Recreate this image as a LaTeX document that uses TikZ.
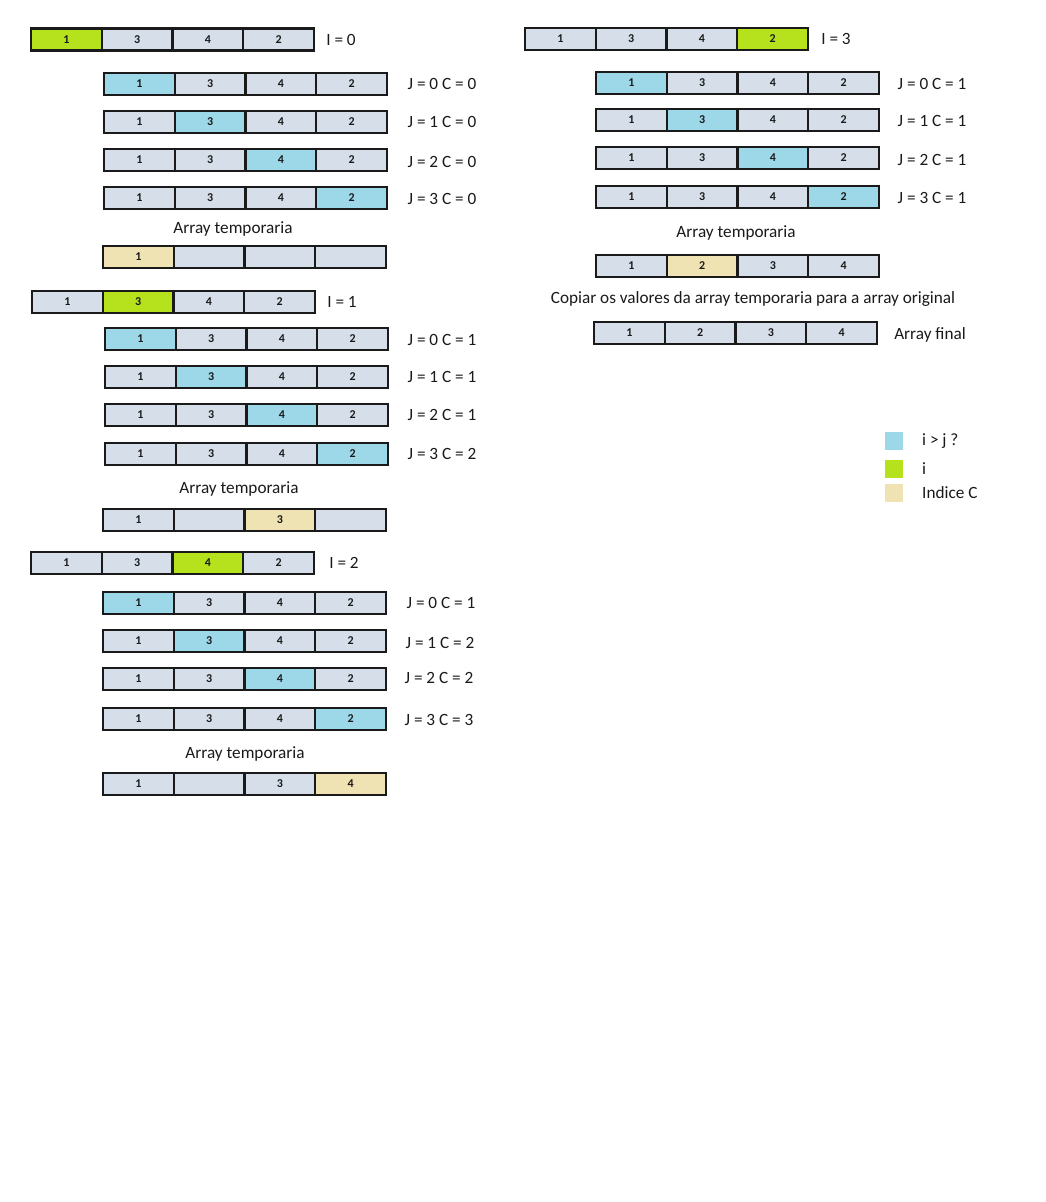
\documentclass[tikz,border=0pt]{standalone}
\usepackage{fontspec}
\setmainfont{Carlito}
\definecolor{cellbg}{HTML}{D6DFE9}
\definecolor{hiblue}{HTML}{9DD8E9}
\definecolor{icol}{HTML}{B5E21D}
\definecolor{ccol}{HTML}{EFE2B3}
\definecolor{ink}{HTML}{1A1A1A}
% one row of four cells: name, left edge, centre y, list of value/fill
\newcommand\cellrow[4]{%
  \foreach \v/\f [count=\k] in {#4}{%
    \node[cell, fill=\f] (#1-\k) at ({#2+70.75*\k-35.375},#3) {\v};
  }%
}
\begin{document}
\begin{tikzpicture}[x=1pt,y=-1pt,
  cell/.style={draw=ink, line width=2.3pt, minimum width=70.75pt, minimum height=22pt,
    inner sep=0pt, outer sep=0pt, font=\fontsize{12}{13}\selectfont\bfseries, text=ink},
  lbl/.style={font=\fontsize{17.2}{19}\selectfont, text=ink, inner sep=0pt},
  key/.style={minimum size=18pt, inner sep=0pt, draw=none}]
\useasboundingbox (0,0) rectangle (1045,1202);
\fill[white] (0,0) rectangle (1045,1202);

% ---- I = 0
\cellrow{a0}{31}{39.5}{1/icol,3/cellbg,4/cellbg,2/cellbg}
\node[lbl] (la0) at (341,40) {I = 0};
\cellrow{j00}{104}{84}{1/hiblue,3/cellbg,4/cellbg,2/cellbg}
\cellrow{j01}{104}{122}{1/cellbg,3/hiblue,4/cellbg,2/cellbg}
\cellrow{j02}{104}{160}{1/cellbg,3/cellbg,4/hiblue,2/cellbg}
\cellrow{j03}{104}{198}{1/cellbg,3/cellbg,4/cellbg,2/hiblue}
\node[lbl] (lj00) at (442,84) {J = 0 C = 0};
\node[lbl] (lj01) at (442,122) {J = 1 C = 0};
\node[lbl] (lj02) at (442,162) {J = 2 C = 0};
\node[lbl] (lj03) at (442,199) {J = 3 C = 0};
\node[lbl] (tt0) at (233,229) {Array temporaria};
\cellrow{t0}{103}{257}{1/ccol,{}/cellbg,{}/cellbg,{}/cellbg}

% ---- I = 1
\cellrow{a1}{32}{302}{1/cellbg,3/icol,4/cellbg,2/cellbg}
\node[lbl] (la1) at (342,302) {I = 1};
\cellrow{j10}{105}{339}{1/hiblue,3/cellbg,4/cellbg,2/cellbg}
\cellrow{j11}{105}{377}{1/cellbg,3/hiblue,4/cellbg,2/cellbg}
\cellrow{j12}{105}{415}{1/cellbg,3/cellbg,4/hiblue,2/cellbg}
\cellrow{j13}{105}{454}{1/cellbg,3/cellbg,4/cellbg,2/hiblue}
\node[lbl] (lj10) at (442,340) {J = 0 C = 1};
\node[lbl] (lj11) at (442,377) {J = 1 C = 1};
\node[lbl] (lj12) at (442,415) {J = 2 C = 1};
\node[lbl] (lj13) at (442,454) {J = 3 C = 2};
\node[lbl] (tt1) at (239,489) {Array temporaria};
\cellrow{t1}{103}{520}{1/cellbg,{}/cellbg,3/ccol,{}/cellbg}

% ---- I = 2
\cellrow{a2}{31}{563}{1/cellbg,3/cellbg,4/icol,2/cellbg}
\node[lbl] (la2) at (344,563) {I = 2};
\cellrow{j20}{103}{603}{1/hiblue,3/cellbg,4/cellbg,2/cellbg}
\cellrow{j21}{103}{641}{1/cellbg,3/hiblue,4/cellbg,2/cellbg}
\cellrow{j22}{103}{679}{1/cellbg,3/cellbg,4/hiblue,2/cellbg}
\cellrow{j23}{103}{719}{1/cellbg,3/cellbg,4/cellbg,2/hiblue}
\node[lbl] (lj20) at (441,603) {J = 0 C = 1};
\node[lbl] (lj21) at (440,643) {J = 1 C = 2};
\node[lbl] (lj22) at (439,678) {J = 2 C = 2};
\node[lbl] (lj23) at (439,720) {J = 3 C = 3};
\node[lbl] (tt2) at (245,754) {Array temporaria};
\cellrow{t2}{103}{784}{1/cellbg,{}/cellbg,3/cellbg,4/ccol}

% ---- I = 3
\cellrow{a3}{525}{39}{1/cellbg,3/cellbg,4/cellbg,2/icol}
\node[lbl] (la3) at (836,39) {I = 3};
\cellrow{j30}{596}{83}{1/hiblue,3/cellbg,4/cellbg,2/cellbg}
\cellrow{j31}{596}{120}{1/cellbg,3/hiblue,4/cellbg,2/cellbg}
\cellrow{j32}{596}{158}{1/cellbg,3/cellbg,4/hiblue,2/cellbg}
\cellrow{j33}{596}{197}{1/cellbg,3/cellbg,4/cellbg,2/hiblue}
\node[lbl] (lj30) at (932,84) {J = 0 C = 1};
\node[lbl] (lj31) at (932,121) {J = 1 C = 1};
\node[lbl] (lj32) at (932,160) {J = 2 C = 1};
\node[lbl] (lj33) at (932,198) {J = 3 C = 1};
\node[lbl] (tt3) at (736,233) {Array temporaria};
\cellrow{t3}{596}{266}{1/cellbg,2/ccol,3/cellbg,4/cellbg}
\node[lbl] (cp) at (753,299) {Copiar os valores da array temporaria para a array original};
\cellrow{fin}{594}{333}{1/cellbg,2/cellbg,3/cellbg,4/cellbg}
\node[lbl] (lfin) at (930,335) {Array final};

% ---- legend
\node[key, fill=hiblue] (k1) at (894,441) {};
\node[key, fill=icol] (k2) at (894,468.5) {};
\node[key, fill=ccol] (k3) at (894,493) {};
\node[lbl, anchor=west] (kt1) at (922,441) {i > j ?};
\node[lbl, anchor=west] (kt2) at (922,469) {i};
\node[lbl, anchor=west] (kt3) at (922,493) {Indice C};
\end{tikzpicture}
\end{document}
